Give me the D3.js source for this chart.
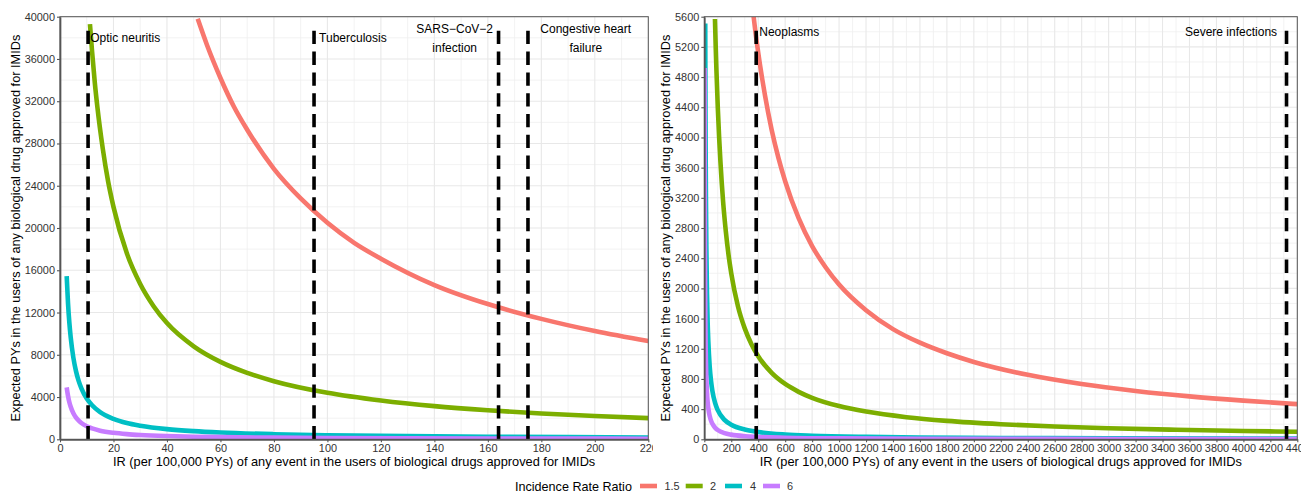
<!DOCTYPE html>
<html>
<head>
<meta charset="utf-8">
<script src="https://cdn.jsdelivr.net/npm/d3@7"></script>
<style>
  html, body { margin: 0; padding: 0; background: #fff; }
  svg { display: block; font-family: "Liberation Sans", Arial, Helvetica, sans-serif; }
</style>
</head>
<body>
<svg id="chart" width="1301" height="493"></svg>
<script>
// ---------------- DATA ----------------
const irrLevels = ["1.5", "2", "4", "6"];

// Left panel (IR 0–220)
const leftX_15 = [51.5, 55, 60, 65, 70, 80, 90, 100, 110, 120, 140, 160, 180, 200, 220];
const leftY_15 = [39800, 37300, 34200, 31500, 29300, 25600, 22800, 20500, 18600, 17100, 14600, 12800, 11400, 10250, 9300];
const leftX_2 = [11.2, 12, 13, 14, 16, 18, 20, 25, 30, 35, 40, 50, 60, 70, 80, 100, 120, 140, 160, 180, 200, 220];
const leftY_2 = [39300, 36700, 33800, 31400, 27500, 24400, 22000, 17600, 14700, 12600, 11000, 8800, 7330, 6290, 5500, 4400, 3670, 3140, 2750, 2440, 2200, 2000];
const leftX_4 = [2.5, 3, 3.5, 4, 5, 6, 7, 8, 10, 12, 15, 20, 25, 30, 40, 50, 60, 80, 100, 130, 160, 190, 220];
const leftY_4 = [15440, 12870, 11030, 9650, 7720, 6430, 5510, 4830, 3860, 3220, 2570, 1930, 1540, 1290, 965, 772, 643, 483, 386, 297, 241, 203, 175];
const leftX_6 = [2.5, 3, 3.5, 4, 5, 6, 7, 8, 10, 12, 15, 20, 25, 30, 40, 50, 60, 80, 100, 130, 160, 190, 220];
const leftY_6 = [4920, 4100, 3510, 3080, 2460, 2050, 1760, 1540, 1230, 1030, 820, 615, 492, 410, 308, 246, 205, 154, 123, 95, 77, 65, 56];

// Right panel (IR 0–4400)
const rightX_15 = [366, 380, 400, 450, 500, 550, 600, 700, 800, 900, 1000, 1200, 1400, 1600, 1800, 2000, 2400, 2800, 3200, 3600, 4000, 4400];
const rightY_15 = [5600, 5390, 5125, 4560, 4100, 3730, 3420, 2930, 2560, 2280, 2050, 1710, 1460, 1280, 1140, 1025, 854, 732, 641, 569, 513, 466];
const rightX_2 = [79, 85, 90, 100, 110, 120, 140, 160, 180, 200, 250, 300, 350, 400, 500, 600, 700, 800, 1000, 1200, 1500, 1800, 2200, 2600, 3000, 3500, 4000, 4400];
const rightY_2 = [5570, 5180, 4890, 4400, 4000, 3670, 3140, 2750, 2440, 2200, 1760, 1470, 1260, 1100, 880, 733, 629, 550, 440, 367, 293, 244, 200, 169, 147, 126, 110, 100];
const rightX_4 = [7, 8, 9, 10, 12, 15, 20, 25, 30, 40, 50, 60, 80, 100, 150, 200, 300, 400, 600, 800, 1200, 1600, 2200, 3000, 4400];
const rightY_4 = [5510, 4830, 4290, 3860, 3220, 2570, 1930, 1540, 1290, 965, 772, 643, 483, 386, 257, 193, 129, 97, 64, 48, 32, 24, 18, 13, 9];
const rightX_6 = [2.5, 3, 4, 5, 6, 8, 10, 12, 15, 20, 25, 30, 40, 50, 60, 80, 100, 150, 200, 300, 400, 600, 1000, 1600, 2500, 4400];
const rightY_6 = [4920, 4100, 3080, 2460, 2050, 1540, 1230, 1030, 820, 615, 492, 410, 308, 246, 205, 154, 123, 82, 62, 41, 31, 21, 12, 8, 5, 3];

// Events (vertical dashed lines)
const leftEvents = ["Optic neuritis", "Tuberculosis", "SARS\u2212CoV\u22122\ninfection", "Congestive heart\nfailure"];
const leftEventIR = [10.5, 95, 164, 175];
const leftEventTop = 39000;
const rightEvents = ["Neoplasms", "Severe infections"];
const rightEventIR = [385, 4320];
const rightEventTop = 5460;

// Ticks
const leftXTicks = [0, 20, 40, 60, 80, 100, 120, 140, 160, 180, 200, 220];
const leftYTicks = [0, 4000, 8000, 12000, 16000, 20000, 24000, 28000, 32000, 36000, 40000];
const rightXTicks = [0, 200, 400, 600, 800, 1000, 1200, 1400, 1600, 1800, 2000, 2200, 2400, 2600, 2800, 3000, 3200, 3400, 3600, 3800, 4000, 4200, 4400];
const rightYTicks = [0, 400, 800, 1200, 1600, 2000, 2400, 2800, 3200, 3600, 4000, 4400, 4800, 5200, 5600];

const xTitle = "IR (per 100,000 PYs) of any event in the users of biological drugs approved for IMIDs";
const yTitle = "Expected PYs in the users of any biological drug approved for IMIDs";
const legendTitle = "Incidence Rate Ratio";

// ---------------- STYLE / LAYOUT ----------------
const colors = ["#F8766D", "#7CAE00", "#00BFC4", "#C77CFF"];
const svg = d3.select("#chart");
svg.append("rect").attr("width", 1301).attr("height", 493).attr("fill", "#fff");

function midpoints(arr) {
  const out = [];
  for (let i = 0; i < arr.length - 1; i++) out.push((arr[i] + arr[i + 1]) / 2);
  return out;
}

function drawPanel(cfg) {
  const g = svg.append("g");
  const x = d3.scaleLinear().domain([cfg.xTicks[0], cfg.xTicks[cfg.xTicks.length - 1]]).range([cfg.x0, cfg.x1]);
  const y = d3.scaleLinear().domain([cfg.yTicks[0], cfg.yTicks[cfg.yTicks.length - 1]]).range([cfg.y0, cfg.y1]);

  if (cfg.bgFrom !== undefined) {
    g.append("rect").attr("x", cfg.bgFrom).attr("y", 0).attr("width", 1301 - cfg.bgFrom).attr("height", 470).attr("fill", "#fff");
  }

  const clipId = "clip" + cfg.id;
  svg.append("clipPath").attr("id", clipId).append("rect")
    .attr("x", cfg.x0).attr("y", cfg.y1).attr("width", cfg.x1 - cfg.x0).attr("height", cfg.y0 - cfg.y1);

  // grid
  const grid = g.append("g");
  midpoints(cfg.xTicks).forEach(v => grid.append("line").attr("x1", x(v)).attr("x2", x(v)).attr("y1", cfg.y1).attr("y2", cfg.y0).attr("stroke", "#EFEFEF").attr("stroke-width", 0.8));
  midpoints(cfg.yTicks).forEach(v => grid.append("line").attr("y1", y(v)).attr("y2", y(v)).attr("x1", cfg.x0).attr("x2", cfg.x1).attr("stroke", "#EFEFEF").attr("stroke-width", 0.8));
  cfg.xTicks.forEach(v => grid.append("line").attr("x1", x(v)).attr("x2", x(v)).attr("y1", cfg.y1).attr("y2", cfg.y0).attr("stroke", "#E8E8E8").attr("stroke-width", 1.1));
  cfg.yTicks.forEach(v => grid.append("line").attr("y1", y(v)).attr("y2", y(v)).attr("x1", cfg.x0).attr("x2", cfg.x1).attr("stroke", "#E8E8E8").attr("stroke-width", 1.1));

  // curves
  const plot = g.append("g").attr("clip-path", `url(#${clipId})`);
  const line = d3.line().x(d => x(d[0])).y(d => y(d[1])).curve(d3.curveMonotoneX);
  cfg.series.forEach((s, i) => {
    const pts = s.xs.map((v, j) => [v, s.ys[j]]);
    plot.append("path").datum(pts).attr("d", line)
      .attr("fill", "none").attr("stroke", colors[i]).attr("stroke-width", 4.6)
      .attr("stroke-linejoin", "round");
  });

  // event lines
  cfg.eventIR.forEach(v => {
    plot.append("line").attr("x1", x(v)).attr("x2", x(v)).attr("y1", y(0)).attr("y2", y(cfg.eventTop))
      .attr("stroke", "#000").attr("stroke-width", 3.6).attr("stroke-dasharray", "13.3,7.5");
  });

  // event labels
  cfg.labels.forEach(l => {
    const lines = l.text.split("\n");
    const t = g.append("text").attr("font-size", 12).attr("fill", "#000")
      .attr("text-anchor", l.anchor);
    const n = lines.length;
    lines.forEach((ln, k) => {
      t.append("tspan").attr("x", x(l.x)).attr("y", y(l.y) + (k - (n - 1) / 2) * 19 + 4.3).text(ln);
    });
  });

  // panel border
  g.append("rect").attr("x", cfg.x0).attr("y", cfg.y1).attr("width", cfg.x1 - cfg.x0).attr("height", cfg.y0 - cfg.y1)
    .attr("fill", "none").attr("stroke", "#555").attr("stroke-width", 1);

  // axes
  const ax = g.append("g").attr("transform", `translate(0,${cfg.y0})`)
    .call(d3.axisBottom(x).tickValues(cfg.xTicks).tickSize(3).tickSizeOuter(0).tickPadding(1.5).tickFormat(d3.format("d")));
  const ay = g.append("g").attr("transform", `translate(${cfg.x0},0)`)
    .call(d3.axisLeft(y).tickValues(cfg.yTicks).tickSize(3).tickSizeOuter(0).tickPadding(2).tickFormat(d3.format("d")));
  [ax, ay].forEach(a => {
    a.select(".domain").attr("stroke", "#555").attr("stroke-width", 1.7);
    a.selectAll(".tick line").attr("stroke", "#555").attr("stroke-width", 1.1);
    a.selectAll(".tick text").attr("fill", "#333").attr("font-size", 10.9)
      .attr("font-family", '"Liberation Sans", Arial, sans-serif');
  });

  // titles
  g.append("text").attr("x", (cfg.x0 + cfg.x1) / 2).attr("y", 465.5).attr("text-anchor", "middle")
    .attr("font-size", 12.8).attr("fill", "#000").text(xTitle);
  g.append("text").attr("transform", `translate(${cfg.yTitleX},${(cfg.y0 + cfg.y1) / 2}) rotate(-90)`)
    .attr("text-anchor", "middle").attr("dy", "0.35em").attr("font-size", 12.8).attr("fill", "#000").text(yTitle);
}

drawPanel({
  id: "L", x0: 60, x1: 648.3, y0: 439.3, y1: 16.7, yTitleX: 16,
  xTicks: leftXTicks, yTicks: leftYTicks,
  series: [
    { xs: leftX_15, ys: leftY_15 }, { xs: leftX_2, ys: leftY_2 },
    { xs: leftX_4, ys: leftY_4 }, { xs: leftX_6, ys: leftY_6 }
  ],
  eventIR: leftEventIR, eventTop: leftEventTop,
  labels: [
    { text: leftEvents[0], x: 11.3, y: 38000, anchor: "start" },
    { text: leftEvents[1], x: 96.9, y: 38000, anchor: "start" },
    { text: leftEvents[2], x: 147.6, y: 38000, anchor: "middle" },
    { text: leftEvents[3], x: 196.6, y: 38000, anchor: "middle" }
  ]
});

drawPanel({
  id: "R", x0: 704.3, x1: 1297.3, y0: 439.3, y1: 16.7, yTitleX: 666, bgFrom: 653,
  xTicks: rightXTicks, yTicks: rightYTicks,
  series: [
    { xs: rightX_15, ys: rightY_15 }, { xs: rightX_2, ys: rightY_2 },
    { xs: rightX_4, ys: rightY_4 }, { xs: rightX_6, ys: rightY_6 }
  ],
  eventIR: rightEventIR, eventTop: rightEventTop,
  labels: [
    { text: rightEvents[0], x: 408, y: 5400, anchor: "start" },
    { text: rightEvents[1], x: 4250, y: 5400, anchor: "end" }
  ]
});

// legend
const lg = svg.append("g");
lg.append("text").attr("x", 515).attr("y", 490.5).attr("font-size", 12.6).attr("fill", "#000").text(legendTitle);
const keyX = [640, 685.7, 725, 763];
const labX = [664.5, 710, 750, 787];
irrLevels.forEach((lv, i) => {
  lg.append("line").attr("x1", keyX[i]).attr("x2", keyX[i] + 17).attr("y1", 486).attr("y2", 486)
    .attr("stroke", colors[i]).attr("stroke-width", 4.6);
  lg.append("text").attr("x", labX[i]).attr("y", 490).attr("font-size", 10.9).attr("fill", "#333").text(lv);
});
</script>
</body>
</html>
